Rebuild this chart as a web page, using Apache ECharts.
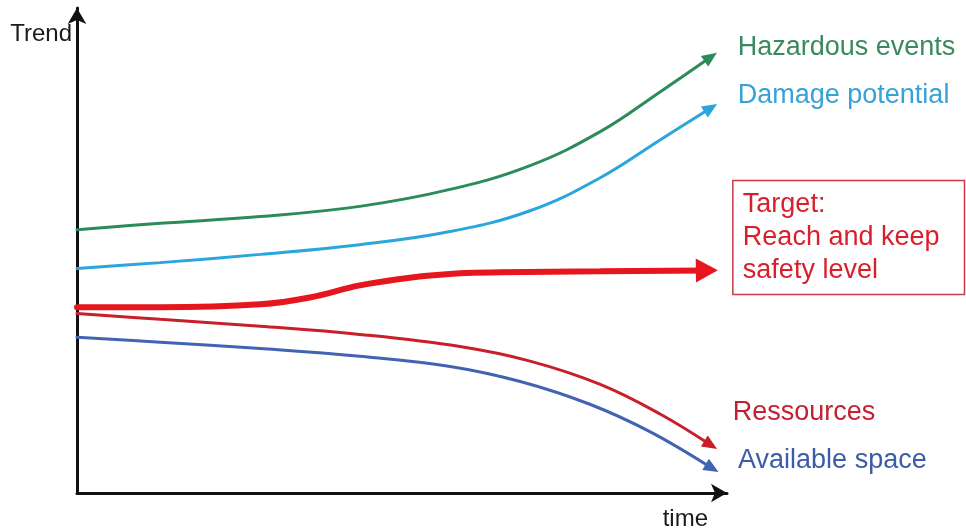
<!DOCTYPE html>
<html>
<head>
<meta charset="utf-8">
<script src="https://cdn.jsdelivr.net/npm/echarts@6/dist/echarts.min.js"></script>
<style>
html,body{margin:0;padding:0;background:#ffffff;}
#chart{width:966px;height:531px;}
</style>
</head>
<body>
<div id="chart"></div>
<script>
// ---- data (time 0..100, trend 0..100) ----
const hazardTime   = [0, 12.8, 28.2, 43.5, 57.4, 69.7, 80.5, 89.7, 97.5];
const hazardTrend  = [54.3, 55.6, 57.0, 59.1, 62.6, 67.5, 74.5, 82.7, 89.9];

const damageTime   = [0, 12.8, 28.2, 43.5, 57.4, 69.7, 80.5, 89.7, 97.5];
const damageTrend  = [46.3, 47.5, 49.2, 51.2, 53.9, 58.2, 65.0, 72.8, 79.4];

const targetTime   = [0, 12.8, 28.2, 35.8, 43.5, 51.2, 58.9, 65.1, 80.5, 96.9];
const targetTrend  = [38.3, 38.3, 38.9, 40.3, 42.8, 44.4, 45.3, 45.5, 45.7, 45.9];

const resTime      = [0, 12.8, 28.2, 43.5, 58.9, 69.7, 80.5, 89.7, 97.5];
const resTrend     = [37.0, 35.8, 34.4, 32.7, 30.2, 27.2, 22.4, 16.3, 9.9];

const spaceTime    = [0, 12.8, 28.2, 43.5, 57.4, 68.2, 78.9, 88.2, 97.7];
const spaceTrend   = [32.1, 31.1, 29.8, 28.2, 26.1, 23.0, 18.3, 12.6, 5.1];

const seriesNames  = ['Hazardous events', 'Damage potential', 'Target', 'Ressources', 'Available space'];
const targetText   = 'Target:\nReach and keep\nsafety level';
const yAxisName    = 'Trend';
const xAxisName    = 'time';

// ---- chart ----
const FONT = '"Liberation Sans", Arial, Helvetica, sans-serif';
const chart = echarts.init(document.getElementById('chart'), null, {renderer: 'canvas'});

function pairs(xs, ys) { return xs.map((x, i) => [x, ys[i]]); }

const specs = [
  {name: seriesNames[0], xs: hazardTime, ys: hazardTrend, color: '#2b8b5a', textColor: '#3a8a60', width: 3, arrow: [13, 15], offset: [27, -9]},
  {name: seriesNames[1], xs: damageTime, ys: damageTrend, color: '#2ba6dc', textColor: '#36a2d6', width: 3, arrow: [13, 15], offset: [27, -12]},
  {name: seriesNames[2], xs: targetTime, ys: targetTrend, color: '#e5161d', textColor: '#d8202c', width: 6, arrow: [24, 22], offset: [26, -33], box: true},
  {name: seriesNames[3], xs: resTime, ys: resTrend, color: '#c81f2b', textColor: '#c42033', width: 3, arrow: [13, 15], offset: [22, -32]},
  {name: seriesNames[4], xs: spaceTime, ys: spaceTrend, color: '#4262b2', textColor: '#3e5ba8', width: 3, arrow: [13, 15], offset: [26, -8]}
];

function buildSeries(rotations) {
  return specs.map((s, k) => {
    const pts = pairs(s.xs, s.ys);
    const n = pts.length;
    const data = pts.map((p, i) => {
      if (i < n - 1) return {value: p, symbol: 'none'};
      const lbl = {
        show: true,
        position: 'inside',
        align: 'left',
        verticalAlign: 'middle',
        offset: s.offset,
        color: s.textColor,
        fontSize: 27,
        fontFamily: FONT,
        formatter: s.box ? targetText : s.name
      };
      if (s.box) {
        lbl.borderColor = '#cc3a46';
        lbl.borderWidth = 1.5;
        lbl.padding = [9, 25, 6, 10];
        lbl.lineHeight = 33;
      }
      return {value: p, symbol: 'triangle', symbolSize: s.arrow,
              symbolRotate: rotations ? rotations[k] : 0, label: lbl,
              itemStyle: {color: s.color}};
    });
    return {
      name: s.name,
      type: 'line',
      smooth: 0.4,
      showSymbol: true,
      symbol: 'triangle',
      data: data,
      lineStyle: {color: s.color, width: s.width, cap: 'round'},
      itemStyle: {color: s.color},
      emphasis: {disabled: true},
      z: s.box ? 3 : 2
    };
  });
}

const option = {
  animation: false,
  backgroundColor: '#ffffff',
  grid: {left: 77, right: 239, top: 8, bottom: 37, containLabel: false},
  xAxis: {
    type: 'value', min: 0, max: 100,
    name: xAxisName, nameLocation: 'end', nameGap: -19,
    nameTextStyle: {color: '#1a1a1a', fontSize: 24, fontFamily: FONT, align: 'right', verticalAlign: 'top', padding: [14, 0, 0, 0]},
    axisLine: {show: true, symbol: ['none', 'arrow'], symbolSize: [14, 16], lineStyle: {color: '#111111', width: 3}},
    axisTick: {show: false}, axisLabel: {show: false}, splitLine: {show: false}
  },
  yAxis: {
    type: 'value', min: 0, max: 100,
    name: yAxisName, nameLocation: 'end', nameGap: -26,
    nameTextStyle: {color: '#1a1a1a', fontSize: 24, fontFamily: FONT, align: 'right', verticalAlign: 'middle', padding: [0, 5, 0, 0]},
    axisLine: {show: true, symbol: ['none', 'arrow'], symbolSize: [14, 16], lineStyle: {color: '#111111', width: 3}},
    axisTick: {show: false}, axisLabel: {show: false}, splitLine: {show: false}
  },
  series: buildSeries(null)
};

chart.setOption(option);

// orient arrowheads along the last segment, using the chart's own scales
const rotations = specs.map(s => {
  const n = s.xs.length;
  const a = chart.convertToPixel({gridIndex: 0}, [s.xs[n - 2], s.ys[n - 2]]);
  const b = chart.convertToPixel({gridIndex: 0}, [s.xs[n - 1], s.ys[n - 1]]);
  const ang = Math.atan2(-(b[1] - a[1]), b[0] - a[0]) * 180 / Math.PI;
  return ang - 90;
});
chart.setOption({series: buildSeries(rotations)});
</script>
</body>
</html>
